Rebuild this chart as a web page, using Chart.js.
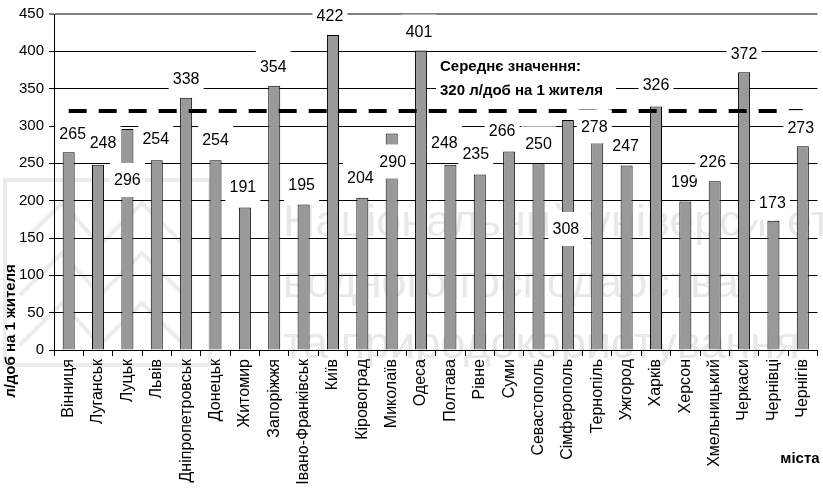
<!DOCTYPE html>
<html><head><meta charset="utf-8">
<script src="https://cdn.jsdelivr.net/npm/chart.js@4.4.1/dist/chart.umd.min.js"></script>
<style>html,body{margin:0;padding:0;background:#fff;overflow:hidden}#wrap{position:relative;width:825px;height:494px}</style>
</head><body><div id="wrap"><canvas id="c"></canvas></div>
<script>
const cities = ['Вінниця','Луганськ','Луцьк','Львів','Дніпропетровськ','Донецьк','Житомир','Запоріжжя','Івано-Франківськ','Київ','Кіровоград','Миколаїв','Одеса','Полтава','Рівне','Суми','Севастополь','Сімферополь','Тернопіль','Ужгород','Харків','Херсон','Хмельницький','Черкаси','Чернівці','Чернігів'];
const consumption = [265,248,296,254,338,254,191,354,195,422,204,290,401,248,235,266,250,308,278,247,326,199,226,372,173,273];
const meanLine = [320,320,320,320,320,320,320,320,320,320,320,320,320,320,320,320,320,320,320,320,320,320,320,320,320,320];
const meanTitle = ['Середнє значення:', '320 л/доб на 1 жителя'];
const yTitle = 'л/доб на 1 жителя';
const xTitle = 'міста';
const watermark = ['Національний університет','водного господарства','та природокористування'];

// layout only: pixel shifts of the value labels from bar tops
const labelShiftX = [4,5,0,-1,0,0,-2,-1,-2,-3,-2,1,-2,-6,-4,-7,0,-2,-3,-1,0,-1,-2,0,-1,-2];
const labelShiftY = [-19,-22,51,-22,-19,-21,-21,-19,-20,-19,-20,28,-19,-22,-21,-21,-20,109,-16,-20,-22,-20,-20,-19,-18,-19];

const FONT = "'Liberation Sans', Arial, sans-serif";

const overlay = {
  id: 'overlay',
  beforeDraw(chart) {
    const ctx = chart.ctx;
    ctx.save();
    ctx.fillStyle = '#fff';
    ctx.fillRect(0, 0, chart.width, chart.height);
    // faint watermark logo
    ctx.strokeStyle = '#ececec';
    ctx.lineWidth = 4;
    ctx.strokeRect(5, 180, 205, 185);
    [0, 50, 100].forEach(off => {
      ctx.beginPath();
      ctx.moveTo(20, 245 + off);
      ctx.lineTo(62, 203 + off);
      ctx.lineTo(100, 245 + off);
      ctx.lineTo(142, 203 + off);
      ctx.lineTo(184, 245 + off);
      ctx.stroke();
    });
    ctx.fillStyle = '#e8e8e8';
    ctx.font = '45px ' + FONT;
    ctx.textAlign = 'left';
    ctx.textBaseline = 'alphabetic';
    const base = [236, 297, 358];
    watermark.forEach((t, i) => ctx.fillText(t, 283, base[i]));
    ctx.restore();
  },
  afterDraw(chart) {
    const ctx = chart.ctx;
    const meta = chart.getDatasetMeta(0);
    ctx.save();
    ctx.font = '16px ' + FONT;
    ctx.textAlign = 'center';
    ctx.textBaseline = 'middle';
    meta.data.forEach((bar, i) => {
      const cx = bar.x + labelShiftX[i];
      const cy = bar.y + labelShiftY[i];
      ctx.fillStyle = '#fff';
      ctx.fillRect(cx - 17.5, cy - 17, 35, 34);
      ctx.fillStyle = '#000';
      ctx.fillText(String(consumption[i]), cx, cy + 1);
    });
    // mean annotation
    ctx.fillStyle = '#fff';
    ctx.fillRect(436, 56, 180, 48);
    ctx.fillStyle = '#000';
    ctx.font = 'bold 15px ' + FONT;
    ctx.textAlign = 'left';
    ctx.fillText(meanTitle[0], 440, 67);
    ctx.fillText(meanTitle[1], 440, 91);
    // x axis title
    ctx.textAlign = 'center';
    ctx.fillText(xTitle, 800, 459);
    // y axis title
    ctx.translate(11, 331);
    ctx.rotate(-Math.PI / 2);
    ctx.fillText(yTitle, 0, 0);
    ctx.restore();
  }
};

new Chart(document.getElementById('c'), {
  data: {
    labels: cities,
    datasets: [
      {
        type: 'bar',
        data: consumption,
        backgroundColor: '#999999',
        borderColor: '#000',
        borderWidth: 1,
        barPercentage: 0.41,
        categoryPercentage: 1,
        order: 2
      },
      {
        type: 'line',
        data: meanLine,
        borderColor: '#000',
        borderWidth: 4,
        borderDash: [18, 12],
        pointRadius: 0,
        fill: false,
        order: 1
      }
    ]
  },
  options: {
    responsive: true,
    maintainAspectRatio: false,
    animation: false,
    layout: { padding: { top: 14, left: 0, right: 0, bottom: 0 } },
    plugins: { legend: { display: false }, tooltip: { enabled: false } },
    scales: {
      x: {
        type: 'category',
        offset: true,
        grid: { display: true, drawOnChartArea: false, drawTicks: true, tickLength: 6, color: '#000', offset: true },
        border: { display: true, color: '#000', width: 1 },
        ticks: { minRotation: 90, maxRotation: 90, autoSkip: false, color: '#000', padding: 3, font: { family: FONT, size: 16 } },
        afterFit: s => { s.height = 144; }
      },
      y: {
        min: 0, max: 450,
        grid: {
          color: c => (c.tick && c.tick.value === 450) ? '#808080' : '#000',
          lineWidth: c => (c.tick && c.tick.value === 450) ? 2 : 1,
          tickLength: 5, drawTicks: true
        },
        border: { display: true, color: '#000', width: 1 },
        ticks: { stepSize: 50, color: '#000', padding: 5, font: { family: FONT, size: 15 } },
        afterFit: s => { s.width = 54; }
      }
    }
  },
  plugins: [overlay]
});
</script>
</body></html>
